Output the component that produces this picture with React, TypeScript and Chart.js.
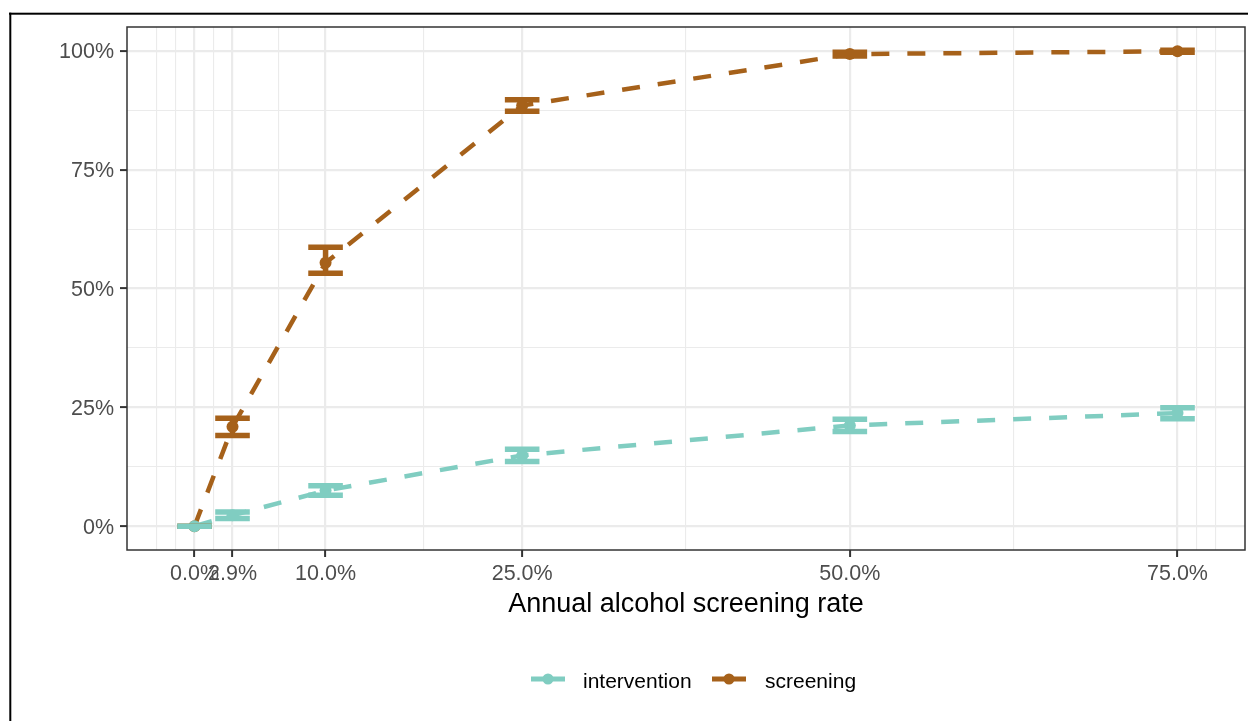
import React, { useEffect, useRef } from "react";
import { Chart, registerables } from "chart.js";

Chart.register(...registerables);

// ---- data ----
const xValues = [0, 2.9, 10, 25, 50, 75];
const interventionMean = [0, 2.3, 7.5, 14.9, 21.2, 23.8];
const interventionLow = [0, 1.6, 6.5, 13.6, 19.9, 22.6];
const interventionHigh = [0, 3.0, 8.5, 16.2, 22.5, 24.9];
const screeningMean = [0, 20.9, 55.4, 88.5, 99.3, 99.9];
const screeningLow = [0, 19.1, 53.2, 87.3, 98.9, 99.7];
const screeningHigh = [0, 22.7, 58.7, 89.7, 99.7, 100.1];

const xMajorTicks = [0, 2.9, 10, 25, 50, 75];
const xTickLabels = ["0.0%", "2.9%", "10.0%", "25.0%", "50.0%", "75.0%"];
const xMinorTicks = [-2.9, -1.45, 1.45, 6.45, 17.5, 37.5, 62.5, 76.45, 77.9];
const yMajorTicks = [0, 25, 50, 75, 100];
const yTickLabels = ["0%", "25%", "50%", "75%", "100%"];
const yMinorTicks = [12.5, 37.5, 62.5, 87.5];
const seriesNames = ["intervention", "screening"];
const xAxisTitle = "Annual alcohol screening rate";
const errorBarHalfWidth = 1.32;

const COLOR_INT = "#80CDC1";
const COLOR_SCR = "#A6611A";
const FONT = '"Liberation Sans", Arial, sans-serif';
const CANVAS_W = 1251;
const CANVAS_H = 721;

const series = [
  { name: seriesNames[0], mean: interventionMean, low: interventionLow, high: interventionHigh, color: COLOR_INT },
  { name: seriesNames[1], mean: screeningMean, low: screeningLow, high: screeningHigh, color: COLOR_SCR },
];

const frameAndBackground = {
  id: "frameAndBackground",
  beforeDraw(chart: any) {
    const { ctx, width, height } = chart;
    ctx.save();
    ctx.fillStyle = "#ffffff";
    ctx.fillRect(0, 0, width, height);
    ctx.fillStyle = "#000000";
    ctx.fillRect(9, 12.7, width - 9, 2);
    ctx.fillRect(9.3, 12.7, 2, height - 12.7);
    ctx.restore();
  },
};

const errorBars = {
  id: "errorBars",
  afterDatasetsDraw(chart: any) {
    const { ctx } = chart;
    const x = chart.scales.x;
    const y = chart.scales.y;
    ctx.save();
    // screening first, intervention on top
    [series[1], series[0]].forEach((s) => {
      ctx.strokeStyle = s.color;
      ctx.lineWidth = 5.5;
      ctx.lineCap = "butt";
      xValues.forEach((xv, i) => {
        const px = x.getPixelForValue(xv);
        const xl = x.getPixelForValue(xv - errorBarHalfWidth);
        const xr = x.getPixelForValue(xv + errorBarHalfWidth);
        const yl = y.getPixelForValue(s.low[i]);
        const yh = y.getPixelForValue(s.high[i]);
        ctx.beginPath();
        ctx.moveTo(px, yl);
        ctx.lineTo(px, yh);
        ctx.moveTo(xl, yl);
        ctx.lineTo(xr, yl);
        ctx.moveTo(xl, yh);
        ctx.lineTo(xr, yh);
        ctx.stroke();
      });
    });
    ctx.restore();
  },
};

const panelBorderAndLegend = {
  id: "panelBorderAndLegend",
  afterDraw(chart: any) {
    const { ctx, chartArea } = chart;
    ctx.save();
    ctx.strokeStyle = "#333333";
    ctx.lineWidth = 1.5;
    ctx.strokeRect(chartArea.left, chartArea.top, chartArea.right - chartArea.left, chartArea.bottom - chartArea.top);

    // legend
    const keyStarts = [531, 712];
    const textStarts = [583, 765];
    const keyY = 679;
    series.forEach((s, i) => {
      ctx.strokeStyle = s.color;
      ctx.lineWidth = 5;
      ctx.beginPath();
      ctx.moveTo(keyStarts[i], keyY);
      ctx.lineTo(keyStarts[i] + 34, keyY);
      ctx.stroke();
      ctx.fillStyle = s.color;
      ctx.beginPath();
      ctx.arc(keyStarts[i] + 17, keyY, 5.5, 0, Math.PI * 2);
      ctx.fill();
      ctx.fillStyle = "#000000";
      ctx.font = `21px ${FONT}`;
      ctx.textBaseline = "alphabetic";
      ctx.textAlign = "left";
      ctx.fillText(s.name, textStarts[i], 688);
    });
    ctx.restore();
  },
};

function gridOpts(majors: number[]) {
  const isMajor = (c: any) => c.tick && majors.indexOf(c.tick.value) >= 0;
  return {
    color: "#EBEBEB",
    lineWidth: (c: any) => (isMajor(c) ? 2.2 : 1.1),
    drawTicks: true,
    tickLength: 7,
    tickWidth: 2,
    tickColor: (c: any) => (isMajor(c) ? "#333333" : "rgba(0,0,0,0)"),
  };
}

export default function App() {
  const canvasRef = useRef<HTMLCanvasElement | null>(null);

  useEffect(() => {
    if (!canvasRef.current) return;
    const chart = new Chart(canvasRef.current, {
      type: "line",
      data: {
        datasets: series.map((s, idx) => ({
          label: s.name,
          data: xValues.map((xv, i) => ({ x: xv, y: s.mean[i] })),
          borderColor: s.color,
          backgroundColor: s.color,
          borderWidth: 4.5,
          borderDash: [18, 18],
          borderCapStyle: "butt",
          pointRadius: 6,
          pointBorderWidth: 0,
          pointBackgroundColor: s.color,
          pointHoverRadius: 6,
          tension: 0,
          fill: false,
          order: idx,
        })),
      },
      options: {
        responsive: false,
        animation: false,
        devicePixelRatio: 1,
        layout: { padding: { left: 0, right: 0, top: 27, bottom: 0 } },
        plugins: {
          legend: { display: false },
          tooltip: { enabled: false },
        },
        scales: {
          x: {
            type: "linear",
            min: -5.15,
            max: 80.15,
            afterBuildTicks: (scale: any) => {
              scale.ticks = [...xMajorTicks, ...xMinorTicks]
                .sort((a, b) => a - b)
                .map((v) => ({ value: v }));
            },
            afterFit: (scale: any) => {
              scale.height = 171;
            },
            border: { display: false },
            grid: gridOpts(xMajorTicks),
            ticks: {
              autoSkip: false,
              maxRotation: 0,
              minRotation: 0,
              padding: 4,
              color: "#4D4D4D",
              font: { family: FONT, size: 21.5 },
              callback: (value: any) => {
                const i = xMajorTicks.indexOf(Number(value));
                return i >= 0 ? xTickLabels[i] : "";
              },
            },
            title: {
              display: true,
              text: xAxisTitle,
              color: "#000000",
              font: { family: FONT, size: 27 },
              padding: { top: 0, bottom: 100 },
            },
          },
          y: {
            type: "linear",
            min: -5,
            max: 105,
            afterBuildTicks: (scale: any) => {
              scale.ticks = [...yMajorTicks, ...yMinorTicks]
                .sort((a, b) => a - b)
                .map((v) => ({ value: v }));
            },
            afterFit: (scale: any) => {
              scale.width = 127;
            },
            border: { display: false },
            grid: gridOpts(yMajorTicks),
            ticks: {
              autoSkip: false,
              padding: 6,
              labelOffset: 1.5,
              color: "#4D4D4D",
              font: { family: FONT, size: 21.5 },
              callback: (value: any) => {
                const i = yMajorTicks.indexOf(Number(value));
                return i >= 0 ? yTickLabels[i] : "";
              },
            },
          },
        },
      },
      plugins: [frameAndBackground, errorBars, panelBorderAndLegend],
    } as any);
    return () => chart.destroy();
  }, []);

  return (
    <div style={{ position: "absolute", left: 0, top: 0, width: 1248, height: 721, overflow: "hidden" }}>
      <canvas ref={canvasRef} width={CANVAS_W} height={CANVAS_H} style={{ display: "block" }} />
    </div>
  );
}
